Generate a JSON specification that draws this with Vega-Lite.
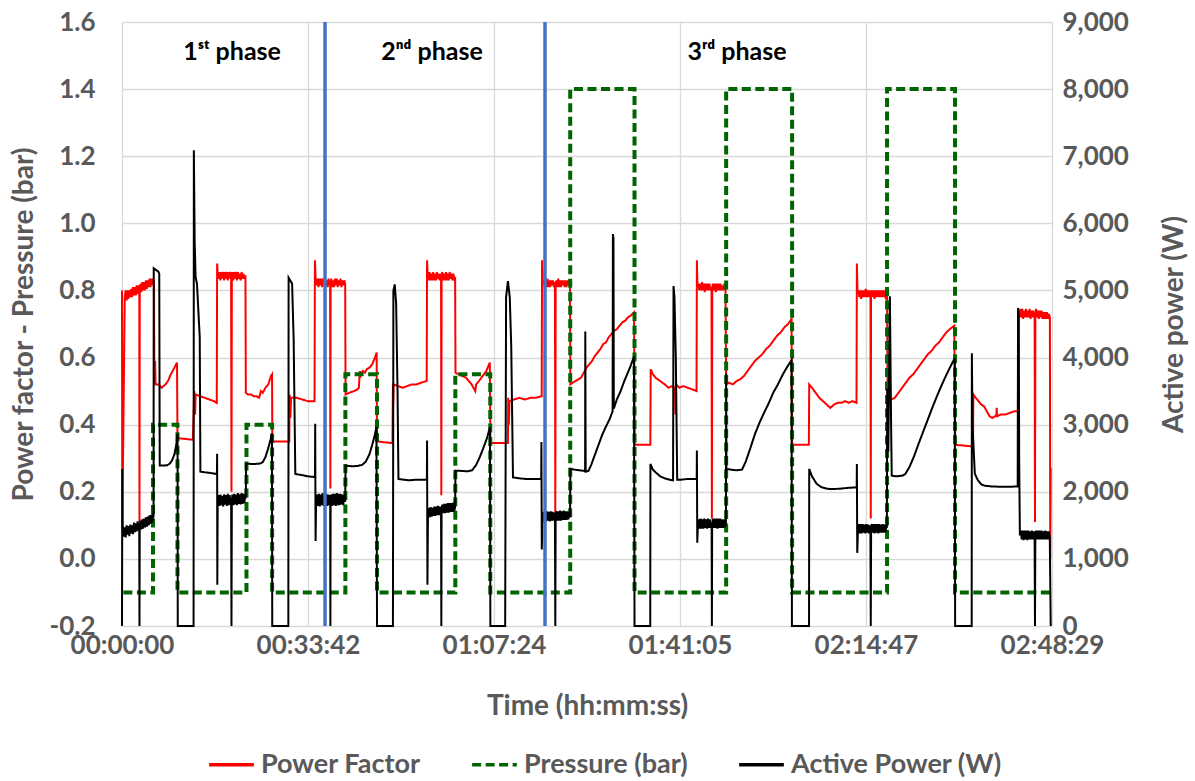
{
"$schema": "https://vega.github.io/schema/vega-lite/v6.json",
"width": 930, "height": 604,
"autosize": {"type": "none"},
"padding": {"left": 122, "top": 22, "right": 143, "bottom": 155},
"background": "white",
"config": {
  "font": "Lato",
  "view": {"stroke": null},
  "axis": {"labelFont": "Lato", "labelFontWeight": "bold", "labelFontSize": 26, "labelColor": "#595959", "titleFont": "Lato", "titleFontWeight": "bold", "titleFontSize": 28, "titleColor": "#595959", "domain": false, "ticks": false, "gridColor": "#D9D9D9", "gridWidth": 1.3},
  "legend": {"orient": "none", "legendX": 85, "legendY": 718, "direction": "horizontal", "labelFont": "Lato", "labelFontSize": 27, "labelFontWeight": "bold", "labelColor": "#595959", "symbolType": "stroke", "symbolSize": 2000, "symbolStrokeWidth": 3.5, "columnPadding": 44, "labelOffset": 5, "padding": 0, "labelLimit": 400}
},
"datasets": {
"pf": [{"t":0,"v":0.80},{"t":3,"v":0.09},{"t":30,"v":0.78},{"t":40,"v":0.80},{"t":50,"v":0.77},{"t":60,"v":0.80},{"t":70,"v":0.775},{"t":80,"v":0.80},{"t":90,"v":0.78},{"t":100,"v":0.805},{"t":110,"v":0.78},{"t":120,"v":0.81},{"t":130,"v":0.785},{"t":140,"v":0.81},{"t":150,"v":0.785},{"t":160,"v":0.815},{"t":170,"v":0.79},{"t":180,"v":0.815},{"t":188,"v":0.80},{"t":190,"v":0.11},{"t":193,"v":0.80},{"t":200,"v":0.82},{"t":210,"v":0.795},{"t":220,"v":0.825},{"t":230,"v":0.80},{"t":240,"v":0.825},{"t":250,"v":0.80},{"t":260,"v":0.83},{"t":270,"v":0.805},{"t":280,"v":0.83},{"t":290,"v":0.81},{"t":300,"v":0.835},{"t":310,"v":0.81},{"t":320,"v":0.835},{"t":330,"v":0.815},{"t":340,"v":0.835},{"t":348,"v":0.825},
{"t":352,"v":0.52},{"t":360,"v":0.59},{"t":365,"v":0.52},{"t":400,"v":0.52},{"t":430,"v":0.51},{"t":473,"v":0.52},{"t":500,"v":0.53},{"t":530,"v":0.55},{"t":570,"v":0.57},{"t":598,"v":0.585},{"t":603,"v":0.36},
{"t":770,"v":0.355},
{"t":785,"v":0.50},{"t":795,"v":0.43},{"t":800,"v":0.49},{"t":850,"v":0.485},{"t":900,"v":0.48},{"t":950,"v":0.475},{"t":1000,"v":0.47},{"t":1030,"v":0.465},
{"t":1034,"v":0.88},{"t":1040,"v":0.85},{"t":1050,"v":0.835},{"t":1060,"v":0.855},{"t":1070,"v":0.83},{"t":1080,"v":0.855},{"t":1090,"v":0.835},{"t":1100,"v":0.855},{"t":1110,"v":0.83},{"t":1120,"v":0.855},{"t":1130,"v":0.835},{"t":1140,"v":0.855},{"t":1150,"v":0.83},{"t":1160,"v":0.855},{"t":1170,"v":0.835},{"t":1180,"v":0.855},{"t":1186,"v":0.84},{"t":1190,"v":0.20},{"t":1194,"v":0.84},{"t":1200,"v":0.855},{"t":1210,"v":0.83},{"t":1220,"v":0.855},{"t":1230,"v":0.835},{"t":1240,"v":0.855},{"t":1250,"v":0.83},{"t":1260,"v":0.855},{"t":1270,"v":0.835},{"t":1280,"v":0.85},{"t":1290,"v":0.83},{"t":1300,"v":0.855},{"t":1310,"v":0.835},{"t":1320,"v":0.85},{"t":1330,"v":0.835},{"t":1342,"v":0.845},
{"t":1346,"v":0.495},{"t":1370,"v":0.49},{"t":1400,"v":0.49},{"t":1430,"v":0.485},{"t":1460,"v":0.485},{"t":1490,"v":0.48},{"t":1510,"v":0.50},{"t":1530,"v":0.495},{"t":1560,"v":0.51},{"t":1590,"v":0.52},{"t":1620,"v":0.545},{"t":1631,"v":0.55},{"t":1634,"v":0.35},
{"t":1818,"v":0.35},
{"t":1822,"v":0.49},{"t":1830,"v":0.42},{"t":1838,"v":0.48},{"t":1900,"v":0.48},{"t":1960,"v":0.475},{"t":2020,"v":0.47},{"t":2093,"v":0.47},
{"t":2097,"v":0.89},{"t":2105,"v":0.83},{"t":2115,"v":0.815},{"t":2125,"v":0.835},{"t":2135,"v":0.81},{"t":2145,"v":0.835},{"t":2155,"v":0.815},{"t":2165,"v":0.835},{"t":2175,"v":0.81},{"t":2185,"v":0.835},{"t":2195,"v":0.815},{"t":2205,"v":0.835},{"t":2215,"v":0.815},{"t":2225,"v":0.83},{"t":2235,"v":0.81},{"t":2245,"v":0.835},{"t":2255,"v":0.815},{"t":2262,"v":0.825},{"t":2265,"v":0.21},{"t":2268,"v":0.825},{"t":2275,"v":0.835},{"t":2285,"v":0.81},{"t":2295,"v":0.83},{"t":2305,"v":0.81},{"t":2315,"v":0.835},{"t":2325,"v":0.815},{"t":2335,"v":0.835},{"t":2345,"v":0.81},{"t":2355,"v":0.83},{"t":2365,"v":0.815},{"t":2375,"v":0.835},{"t":2385,"v":0.81},{"t":2395,"v":0.83},{"t":2405,"v":0.815},{"t":2415,"v":0.83},{"t":2426,"v":0.82},
{"t":2430,"v":0.49},{"t":2470,"v":0.495},{"t":2520,"v":0.50},{"t":2560,"v":0.505},{"t":2575,"v":0.51},{"t":2585,"v":0.56},{"t":2590,"v":0.54},{"t":2600,"v":0.555},{"t":2620,"v":0.56},{"t":2640,"v":0.555},{"t":2660,"v":0.565},{"t":2690,"v":0.57},{"t":2720,"v":0.58},{"t":2750,"v":0.60},{"t":2768,"v":0.615},{"t":2772,"v":0.35},
{"t":2940,"v":0.345},
{"t":2945,"v":0.52},{"t":2948,"v":0.46},{"t":2952,"v":0.52},{"t":3000,"v":0.515},{"t":3050,"v":0.51},{"t":3100,"v":0.515},{"t":3150,"v":0.52},{"t":3200,"v":0.52},{"t":3250,"v":0.525},{"t":3312,"v":0.53},
{"t":3316,"v":0.89},{"t":3322,"v":0.845},{"t":3332,"v":0.83},{"t":3342,"v":0.855},{"t":3352,"v":0.83},{"t":3362,"v":0.85},{"t":3372,"v":0.83},{"t":3382,"v":0.855},{"t":3392,"v":0.83},{"t":3402,"v":0.85},{"t":3412,"v":0.83},{"t":3422,"v":0.855},{"t":3432,"v":0.835},{"t":3442,"v":0.85},{"t":3452,"v":0.83},{"t":3462,"v":0.85},{"t":3468,"v":0.84},{"t":3471,"v":0.19},{"t":3474,"v":0.84},{"t":3482,"v":0.855},{"t":3492,"v":0.83},{"t":3502,"v":0.85},{"t":3512,"v":0.83},{"t":3522,"v":0.855},{"t":3532,"v":0.83},{"t":3542,"v":0.85},{"t":3552,"v":0.83},{"t":3562,"v":0.855},{"t":3572,"v":0.835},{"t":3582,"v":0.85},{"t":3592,"v":0.83},{"t":3602,"v":0.85},{"t":3612,"v":0.835},{"t":3621,"v":0.84},
{"t":3625,"v":0.555},{"t":3660,"v":0.55},{"t":3700,"v":0.545},{"t":3740,"v":0.54},{"t":3770,"v":0.53},{"t":3800,"v":0.52},{"t":3840,"v":0.50},{"t":3850,"v":0.52},{"t":3880,"v":0.53},{"t":3920,"v":0.545},{"t":3960,"v":0.56},{"t":3998,"v":0.585},{"t":4005,"v":0.345},
{"t":4195,"v":0.345},
{"t":4198,"v":0.48},{"t":4205,"v":0.40},{"t":4212,"v":0.47},{"t":4260,"v":0.475},{"t":4320,"v":0.48},{"t":4380,"v":0.475},{"t":4440,"v":0.48},{"t":4500,"v":0.48},{"t":4562,"v":0.485},
{"t":4566,"v":0.89},{"t":4575,"v":0.82},{"t":4585,"v":0.83},{"t":4595,"v":0.81},{"t":4605,"v":0.83},{"t":4615,"v":0.81},{"t":4625,"v":0.835},{"t":4635,"v":0.81},{"t":4645,"v":0.83},{"t":4655,"v":0.81},{"t":4665,"v":0.83},{"t":4675,"v":0.815},{"t":4685,"v":0.83},{"t":4695,"v":0.81},{"t":4706,"v":0.825},{"t":4710,"v":0.12},{"t":4714,"v":0.82},{"t":4722,"v":0.83},{"t":4732,"v":0.81},{"t":4742,"v":0.835},{"t":4752,"v":0.81},{"t":4762,"v":0.83},{"t":4772,"v":0.81},{"t":4782,"v":0.83},{"t":4792,"v":0.815},{"t":4802,"v":0.83},{"t":4812,"v":0.81},{"t":4822,"v":0.83},{"t":4832,"v":0.81},{"t":4842,"v":0.83},{"t":4852,"v":0.815},{"t":4862,"v":0.83},{"t":4869,"v":0.82},
{"t":4874,"v":0.52},{"t":4900,"v":0.525},{"t":4930,"v":0.53},{"t":4960,"v":0.535},{"t":4990,"v":0.54},{"t":5020,"v":0.555},{"t":5050,"v":0.57},{"t":5080,"v":0.58},{"t":5110,"v":0.59},{"t":5140,"v":0.605},{"t":5170,"v":0.615},{"t":5200,"v":0.625},{"t":5230,"v":0.64},{"t":5260,"v":0.645},{"t":5290,"v":0.66},{"t":5320,"v":0.67},{"t":5350,"v":0.68},{"t":5380,"v":0.685},{"t":5410,"v":0.695},{"t":5440,"v":0.705},{"t":5470,"v":0.71},{"t":5500,"v":0.72},{"t":5530,"v":0.725},{"t":5566,"v":0.735},{"t":5573,"v":0.34},
{"t":5743,"v":0.34},
{"t":5747,"v":0.565},{"t":5770,"v":0.55},{"t":5800,"v":0.54},{"t":5850,"v":0.53},{"t":5900,"v":0.52},{"t":5940,"v":0.51},{"t":5980,"v":0.515},{"t":6010,"v":0.51},{"t":6015,"v":0.43},{"t":6022,"v":0.52},{"t":6060,"v":0.51},{"t":6100,"v":0.515},{"t":6150,"v":0.51},{"t":6200,"v":0.505},{"t":6245,"v":0.50},
{"t":6249,"v":0.89},{"t":6255,"v":0.81},{"t":6265,"v":0.82},{"t":6275,"v":0.80},{"t":6285,"v":0.82},{"t":6295,"v":0.80},{"t":6305,"v":0.825},{"t":6315,"v":0.80},{"t":6325,"v":0.82},{"t":6335,"v":0.795},{"t":6345,"v":0.82},{"t":6355,"v":0.80},{"t":6365,"v":0.82},{"t":6375,"v":0.80},{"t":6385,"v":0.82},{"t":6395,"v":0.80},{"t":6408,"v":0.81},{"t":6412,"v":0.12},{"t":6416,"v":0.81},{"t":6425,"v":0.82},{"t":6435,"v":0.80},{"t":6445,"v":0.82},{"t":6455,"v":0.795},{"t":6465,"v":0.82},{"t":6475,"v":0.80},{"t":6485,"v":0.82},{"t":6495,"v":0.80},{"t":6505,"v":0.82},{"t":6515,"v":0.80},{"t":6525,"v":0.815},{"t":6535,"v":0.80},{"t":6545,"v":0.815},{"t":6560,"v":0.81},
{"t":6567,"v":0.52},{"t":6600,"v":0.525},{"t":6640,"v":0.52},{"t":6680,"v":0.53},{"t":6720,"v":0.535},{"t":6760,"v":0.545},{"t":6800,"v":0.56},{"t":6840,"v":0.575},{"t":6880,"v":0.59},{"t":6920,"v":0.60},{"t":6960,"v":0.61},{"t":7000,"v":0.625},{"t":7040,"v":0.635},{"t":7080,"v":0.65},{"t":7120,"v":0.665},{"t":7160,"v":0.675},{"t":7200,"v":0.69},{"t":7240,"v":0.70},{"t":7278,"v":0.715},{"t":7284,"v":0.34},
{"t":7466,"v":0.34},
{"t":7470,"v":0.52},{"t":7500,"v":0.51},{"t":7540,"v":0.495},{"t":7580,"v":0.48},{"t":7620,"v":0.47},{"t":7660,"v":0.46},{"t":7700,"v":0.45},{"t":7740,"v":0.46},{"t":7780,"v":0.465},{"t":7820,"v":0.465},{"t":7860,"v":0.47},{"t":7900,"v":0.465},{"t":7940,"v":0.47},{"t":7984,"v":0.465},
{"t":7988,"v":0.88},{"t":7995,"v":0.79},{"t":8005,"v":0.80},{"t":8015,"v":0.78},{"t":8025,"v":0.80},{"t":8035,"v":0.775},{"t":8045,"v":0.80},{"t":8055,"v":0.78},{"t":8065,"v":0.80},{"t":8075,"v":0.78},{"t":8085,"v":0.805},{"t":8095,"v":0.78},{"t":8105,"v":0.80},{"t":8115,"v":0.78},{"t":8125,"v":0.80},{"t":8136,"v":0.79},{"t":8139,"v":0.12},{"t":8142,"v":0.79},{"t":8150,"v":0.80},{"t":8160,"v":0.78},{"t":8170,"v":0.80},{"t":8180,"v":0.775},{"t":8190,"v":0.80},{"t":8200,"v":0.78},{"t":8210,"v":0.80},{"t":8220,"v":0.78},{"t":8230,"v":0.80},{"t":8240,"v":0.78},{"t":8250,"v":0.80},{"t":8260,"v":0.78},{"t":8270,"v":0.80},{"t":8280,"v":0.78},{"t":8290,"v":0.80},{"t":8300,"v":0.78},{"t":8316,"v":0.79},
{"t":8322,"v":0.47},{"t":8360,"v":0.475},{"t":8400,"v":0.48},{"t":8440,"v":0.495},{"t":8480,"v":0.51},{"t":8520,"v":0.525},{"t":8560,"v":0.54},{"t":8600,"v":0.55},{"t":8640,"v":0.565},{"t":8680,"v":0.58},{"t":8720,"v":0.595},{"t":8760,"v":0.61},{"t":8800,"v":0.62},{"t":8840,"v":0.635},{"t":8880,"v":0.645},{"t":8920,"v":0.66},{"t":8960,"v":0.675},{"t":9000,"v":0.685},{"t":9047,"v":0.695},{"t":9057,"v":0.34},
{"t":9250,"v":0.335},
{"t":9254,"v":0.49},{"t":9280,"v":0.48},{"t":9310,"v":0.47},{"t":9340,"v":0.46},{"t":9370,"v":0.455},{"t":9400,"v":0.44},{"t":9430,"v":0.425},{"t":9460,"v":0.42},{"t":9490,"v":0.425},{"t":9505,"v":0.43},{"t":9508,"v":0.45},{"t":9512,"v":0.425},{"t":9550,"v":0.43},{"t":9600,"v":0.43},{"t":9650,"v":0.435},{"t":9700,"v":0.44},{"t":9738,"v":0.44},
{"t":9745,"v":0.74},{"t":9755,"v":0.72},{"t":9765,"v":0.745},{"t":9775,"v":0.72},{"t":9785,"v":0.745},{"t":9795,"v":0.715},{"t":9805,"v":0.74},{"t":9815,"v":0.72},{"t":9825,"v":0.745},{"t":9835,"v":0.72},{"t":9845,"v":0.74},{"t":9855,"v":0.72},{"t":9865,"v":0.745},{"t":9875,"v":0.715},{"t":9885,"v":0.74},{"t":9895,"v":0.72},{"t":9905,"v":0.74},{"t":9915,"v":0.72},{"t":9920,"v":0.73},{"t":9924,"v":0.11},{"t":9928,"v":0.73},{"t":9935,"v":0.745},{"t":9945,"v":0.72},{"t":9955,"v":0.74},{"t":9965,"v":0.715},{"t":9975,"v":0.74},{"t":9985,"v":0.72},{"t":9995,"v":0.74},{"t":10005,"v":0.715},{"t":10015,"v":0.735},{"t":10025,"v":0.715},{"t":10035,"v":0.735},{"t":10045,"v":0.715},{"t":10055,"v":0.735},{"t":10065,"v":0.715},{"t":10075,"v":0.73},{"t":10086,"v":0.72},{"t":10090,"v":0.0},{"t":10095,"v":0.27}],
"pr": [{"t":15,"v":-0.1},{"t":337,"v":-0.1},{"t":337,"v":0.4},{"t":603,"v":0.4},{"t":603,"v":-0.1},{"t":1353,"v":-0.1},{"t":1353,"v":0.4},{"t":1632,"v":0.4},{"t":1632,"v":-0.1},{"t":2428,"v":-0.1},{"t":2428,"v":0.55},{"t":2772,"v":0.55},{"t":2772,"v":-0.1},{"t":3623,"v":-0.1},{"t":3623,"v":0.55},{"t":4003,"v":0.55},{"t":4003,"v":-0.1},{"t":4872,"v":-0.1},{"t":4872,"v":1.4},{"t":5571,"v":1.4},{"t":5571,"v":-0.1},{"t":6567,"v":-0.1},{"t":6567,"v":1.4},{"t":7284,"v":1.4},{"t":7284,"v":-0.1},{"t":8316,"v":-0.1},{"t":8316,"v":1.4},{"t":9055,"v":1.4},{"t":9055,"v":-0.1},{"t":10085,"v":-0.1}],
"ap": [{"t":0,"w":0},{"t":3,"w":2340},{"t":8,"w":1350},{"t":10,"w":1480},{"t":20,"w":1330},{"t":30,"w":1470},{"t":40,"w":1320},{"t":50,"w":1500},{"t":60,"w":1360},{"t":70,"w":1490},{"t":80,"w":1340},{"t":90,"w":1510},{"t":100,"w":1380},{"t":110,"w":1500},{"t":120,"w":1370},{"t":130,"w":1540},{"t":140,"w":1400},{"t":150,"w":1530},{"t":160,"w":1410},{"t":170,"w":1560},{"t":180,"w":1430},{"t":187,"w":1540},{"t":190,"w":0},{"t":193,"w":1470},{"t":200,"w":1570},{"t":210,"w":1440},{"t":220,"w":1590},{"t":230,"w":1450},{"t":240,"w":1600},{"t":250,"w":1470},{"t":260,"w":1620},{"t":270,"w":1480},{"t":280,"w":1630},{"t":290,"w":1500},{"t":300,"w":1650},{"t":310,"w":1520},{"t":320,"w":1660},{"t":330,"w":1540},{"t":340,"w":1680},{"t":343,"w":1620},
{"t":345,"w":5330},{"t":395,"w":5280},{"t":405,"w":5250},{"t":410,"w":2390},{"t":450,"w":2390},{"t":491,"w":2395},{"t":520,"w":2420},{"t":545,"w":2470},{"t":570,"w":2560},{"t":590,"w":2700},{"t":604,"w":2865},{"t":606,"w":0},
{"t":778,"w":0},
{"t":781,"w":7090},{"t":790,"w":5720},{"t":800,"w":5200},{"t":815,"w":5100},{"t":845,"w":4300},{"t":852,"w":2300},{"t":900,"w":2290},{"t":960,"w":2280},{"t":1010,"w":2270},{"t":1032,"w":2260},
{"t":1034,"w":2565},{"t":1036,"w":615},{"t":1040,"w":1800},{"t":1050,"w":1950},{"t":1060,"w":1790},{"t":1070,"w":1960},{"t":1080,"w":1800},{"t":1090,"w":1940},{"t":1100,"w":1780},{"t":1110,"w":1960},{"t":1120,"w":1810},{"t":1130,"w":1950},{"t":1140,"w":1790},{"t":1150,"w":1970},{"t":1160,"w":1800},{"t":1170,"w":1950},{"t":1180,"w":1810},{"t":1186,"w":1900},{"t":1190,"w":0},{"t":1194,"w":1860},{"t":1200,"w":1960},{"t":1210,"w":1800},{"t":1220,"w":1970},{"t":1230,"w":1810},{"t":1240,"w":1960},{"t":1250,"w":1800},{"t":1260,"w":1980},{"t":1270,"w":1820},{"t":1280,"w":1960},{"t":1290,"w":1810},{"t":1300,"w":1980},{"t":1310,"w":1820},{"t":1320,"w":1970},{"t":1330,"w":1830},{"t":1340,"w":1960},{"t":1345,"w":1900},
{"t":1350,"w":2420},{"t":1400,"w":2415},{"t":1450,"w":2415},{"t":1500,"w":2420},{"t":1530,"w":2440},{"t":1560,"w":2520},{"t":1590,"w":2650},{"t":1615,"w":2780},{"t":1630,"w":2870},{"t":1633,"w":0},
{"t":1808,"w":0},
{"t":1811,"w":5190},{"t":1849,"w":5100},{"t":1866,"w":4265},{"t":1884,"w":2265},{"t":1950,"w":2250},{"t":2020,"w":2230},{"t":2098,"w":2220},
{"t":2100,"w":3015},{"t":2104,"w":1265},{"t":2110,"w":1850},{"t":2120,"w":1960},{"t":2130,"w":1790},{"t":2140,"w":1970},{"t":2150,"w":1780},{"t":2160,"w":1960},{"t":2170,"w":1800},{"t":2180,"w":1980},{"t":2190,"w":1790},{"t":2200,"w":1960},{"t":2210,"w":1800},{"t":2220,"w":1970},{"t":2230,"w":1790},{"t":2240,"w":1960},{"t":2250,"w":1800},{"t":2260,"w":1950},{"t":2263,"w":1880},{"t":2265,"w":0},{"t":2268,"w":1880},{"t":2275,"w":1960},{"t":2285,"w":1790},{"t":2295,"w":1970},{"t":2305,"w":1800},{"t":2315,"w":1970},{"t":2325,"w":1790},{"t":2335,"w":1980},{"t":2345,"w":1800},{"t":2355,"w":1970},{"t":2365,"w":1800},{"t":2375,"w":1970},{"t":2385,"w":1810},{"t":2395,"w":1960},{"t":2405,"w":1800},{"t":2415,"w":1960},{"t":2426,"w":1850},
{"t":2430,"w":2390},{"t":2500,"w":2380},{"t":2560,"w":2385},{"t":2610,"w":2400},{"t":2650,"w":2450},{"t":2690,"w":2560},{"t":2720,"w":2700},{"t":2745,"w":2830},{"t":2766,"w":2965},{"t":2772,"w":0},
{"t":2945,"w":0},
{"t":2950,"w":5000},{"t":2965,"w":5090},{"t":2980,"w":4800},{"t":2995,"w":3500},{"t":3005,"w":2190},{"t":3060,"w":2180},{"t":3120,"w":2170},{"t":3200,"w":2180},{"t":3260,"w":2180},{"t":3314,"w":2180},
{"t":3316,"w":2765},{"t":3320,"w":615},{"t":3326,"w":1650},{"t":3335,"w":1760},{"t":3345,"w":1620},{"t":3355,"w":1770},{"t":3365,"w":1630},{"t":3375,"w":1760},{"t":3385,"w":1640},{"t":3395,"w":1780},{"t":3405,"w":1640},{"t":3415,"w":1780},{"t":3425,"w":1650},{"t":3435,"w":1790},{"t":3445,"w":1650},{"t":3455,"w":1780},{"t":3465,"w":1670},{"t":3468,"w":1720},{"t":3471,"w":0},{"t":3474,"w":1720},{"t":3482,"w":1810},{"t":3492,"w":1680},{"t":3502,"w":1820},{"t":3512,"w":1680},{"t":3522,"w":1820},{"t":3532,"w":1690},{"t":3542,"w":1830},{"t":3552,"w":1690},{"t":3562,"w":1830},{"t":3572,"w":1700},{"t":3582,"w":1830},{"t":3592,"w":1700},{"t":3602,"w":1840},{"t":3612,"w":1710},{"t":3621,"w":1780},
{"t":3625,"w":2315},{"t":3700,"w":2310},{"t":3760,"w":2305},{"t":3805,"w":2320},{"t":3850,"w":2400},{"t":3890,"w":2520},{"t":3930,"w":2660},{"t":3970,"w":2810},{"t":4000,"w":2965},{"t":4004,"w":0},
{"t":4165,"w":0},
{"t":4175,"w":4900},{"t":4195,"w":5140},{"t":4215,"w":4900},{"t":4231,"w":4165},{"t":4250,"w":2215},{"t":4320,"w":2200},{"t":4400,"w":2190},{"t":4480,"w":2190},{"t":4557,"w":2190},
{"t":4559,"w":2740},{"t":4563,"w":1140},{"t":4570,"w":1600},{"t":4580,"w":1700},{"t":4590,"w":1560},{"t":4600,"w":1700},{"t":4610,"w":1560},{"t":4620,"w":1710},{"t":4630,"w":1570},{"t":4640,"w":1700},{"t":4650,"w":1560},{"t":4660,"w":1710},{"t":4670,"w":1570},{"t":4680,"w":1700},{"t":4690,"w":1570},{"t":4700,"w":1690},{"t":4706,"w":1640},{"t":4710,"w":0},{"t":4714,"w":1640},{"t":4722,"w":1710},{"t":4732,"w":1570},{"t":4742,"w":1710},{"t":4752,"w":1570},{"t":4762,"w":1720},{"t":4772,"w":1570},{"t":4782,"w":1710},{"t":4792,"w":1580},{"t":4802,"w":1720},{"t":4812,"w":1580},{"t":4822,"w":1710},{"t":4832,"w":1580},{"t":4842,"w":1710},{"t":4852,"w":1590},{"t":4862,"w":1700},{"t":4870,"w":1620},
{"t":4874,"w":2340},{"t":4920,"w":2330},{"t":4970,"w":2320},{"t":5034,"w":2310},{"t":5036,"w":4390},{"t":5040,"w":2300},{"t":5070,"w":2310},{"t":5100,"w":2400},{"t":5140,"w":2550},{"t":5180,"w":2700},{"t":5220,"w":2850},{"t":5260,"w":2970},{"t":5300,"w":3080},{"t":5333,"w":3200},{"t":5336,"w":5840},{"t":5342,"w":5780},{"t":5346,"w":3240},{"t":5380,"w":3380},{"t":5420,"w":3500},{"t":5460,"w":3650},{"t":5500,"w":3780},{"t":5530,"w":3880},{"t":5565,"w":4015},{"t":5571,"w":0},
{"t":5742,"w":0},
{"t":5744,"w":2415},{"t":5770,"w":2330},{"t":5800,"w":2290},{"t":5850,"w":2230},{"t":5900,"w":2200},{"t":5950,"w":2180},{"t":5990,"w":2170},{"t":5995,"w":5065},{"t":6005,"w":4900},{"t":6020,"w":4000},{"t":6035,"w":2180},{"t":6080,"w":2180},{"t":6140,"w":2190},{"t":6200,"w":2190},{"t":6247,"w":2190},
{"t":6249,"w":2615},{"t":6253,"w":1240},{"t":6260,"w":1500},{"t":6270,"w":1590},{"t":6280,"w":1450},{"t":6290,"w":1600},{"t":6300,"w":1450},{"t":6310,"w":1590},{"t":6320,"w":1450},{"t":6330,"w":1600},{"t":6340,"w":1460},{"t":6350,"w":1590},{"t":6360,"w":1450},{"t":6370,"w":1600},{"t":6380,"w":1460},{"t":6390,"w":1590},{"t":6400,"w":1460},{"t":6409,"w":1540},{"t":6412,"w":0},{"t":6415,"w":1520},{"t":6422,"w":1600},{"t":6432,"w":1460},{"t":6442,"w":1600},{"t":6452,"w":1460},{"t":6462,"w":1600},{"t":6472,"w":1450},{"t":6482,"w":1600},{"t":6492,"w":1460},{"t":6502,"w":1600},{"t":6512,"w":1460},{"t":6522,"w":1590},{"t":6532,"w":1460},{"t":6542,"w":1590},{"t":6552,"w":1470},{"t":6565,"w":1540},
{"t":6567,"w":3765},{"t":6570,"w":2340},{"t":6620,"w":2330},{"t":6680,"w":2320},{"t":6740,"w":2330},{"t":6780,"w":2450},{"t":6830,"w":2650},{"t":6880,"w":2860},{"t":6930,"w":3030},{"t":6980,"w":3180},{"t":7030,"w":3320},{"t":7080,"w":3480},{"t":7130,"w":3600},{"t":7180,"w":3740},{"t":7230,"w":3860},{"t":7278,"w":3960},{"t":7282,"w":0},
{"t":7468,"w":0},
{"t":7470,"w":2340},{"t":7500,"w":2230},{"t":7550,"w":2120},{"t":7600,"w":2070},{"t":7650,"w":2050},{"t":7700,"w":2040},{"t":7800,"w":2045},{"t":7900,"w":2060},{"t":7986,"w":2065},
{"t":7988,"w":2415},{"t":7992,"w":1090},{"t":8000,"w":1430},{"t":8010,"w":1520},{"t":8020,"w":1380},{"t":8030,"w":1520},{"t":8040,"w":1380},{"t":8050,"w":1520},{"t":8060,"w":1390},{"t":8070,"w":1510},{"t":8080,"w":1380},{"t":8090,"w":1520},{"t":8100,"w":1390},{"t":8110,"w":1510},{"t":8120,"w":1380},{"t":8130,"w":1500},{"t":8135,"w":1450},{"t":8139,"w":0},{"t":8143,"w":1450},{"t":8150,"w":1520},{"t":8160,"w":1390},{"t":8170,"w":1520},{"t":8180,"w":1380},{"t":8190,"w":1520},{"t":8200,"w":1390},{"t":8210,"w":1520},{"t":8220,"w":1380},{"t":8230,"w":1520},{"t":8240,"w":1390},{"t":8250,"w":1510},{"t":8260,"w":1390},{"t":8270,"w":1520},{"t":8280,"w":1390},{"t":8290,"w":1510},{"t":8300,"w":1400},{"t":8310,"w":1500},{"t":8314,"w":1460},
{"t":8318,"w":3540},{"t":8330,"w":2600},{"t":8347,"w":4915},{"t":8360,"w":3000},{"t":8367,"w":2240},{"t":8420,"w":2230},{"t":8480,"w":2240},{"t":8512,"w":2260},{"t":8560,"w":2370},{"t":8610,"w":2530},{"t":8660,"w":2720},{"t":8710,"w":2900},{"t":8760,"w":3080},{"t":8810,"w":3260},{"t":8860,"w":3430},{"t":8910,"w":3590},{"t":8960,"w":3740},{"t":9010,"w":3880},{"t":9052,"w":3990},{"t":9056,"w":0},
{"t":9236,"w":0},
{"t":9238,"w":4065},{"t":9245,"w":3000},{"t":9270,"w":2270},{"t":9300,"w":2180},{"t":9340,"w":2110},{"t":9380,"w":2090},{"t":9450,"w":2080},{"t":9550,"w":2075},{"t":9650,"w":2075},{"t":9736,"w":2080},
{"t":9740,"w":4740},{"t":9748,"w":4600},{"t":9752,"w":2500},{"t":9760,"w":1350},{"t":9770,"w":1420},{"t":9780,"w":1290},{"t":9790,"w":1420},{"t":9800,"w":1280},{"t":9810,"w":1420},{"t":9820,"w":1290},{"t":9830,"w":1420},{"t":9840,"w":1280},{"t":9850,"w":1420},{"t":9860,"w":1290},{"t":9870,"w":1410},{"t":9880,"w":1290},{"t":9890,"w":1420},{"t":9900,"w":1290},{"t":9910,"w":1410},{"t":9920,"w":1320},{"t":9924,"w":0},{"t":9928,"w":1350},{"t":9935,"w":1420},{"t":9945,"w":1290},{"t":9955,"w":1420},{"t":9965,"w":1290},{"t":9975,"w":1420},{"t":9985,"w":1290},{"t":9995,"w":1420},{"t":10005,"w":1290},{"t":10015,"w":1410},{"t":10025,"w":1290},{"t":10035,"w":1420},{"t":10045,"w":1290},{"t":10055,"w":1410},{"t":10065,"w":1290},{"t":10075,"w":1410},{"t":10085,"w":1330},{"t":10095,"w":0}],
"ph": [{"t":2207},{"t":4598}],
"lab": [{"t":1196,"v":1.51,"s":"1ˢᵗ phase"},{"t":3370,"v":1.51,"s":"2ⁿᵈ phase"},{"t":6685,"v":1.51,"s":"3ʳᵈ phase"}]
},
"layer": [
{"data": {"name": "pf"},
 "mark": {"type": "line", "strokeWidth": 2},
 "encoding": {
  "x": {"field": "t", "type": "quantitative", "scale": {"domain": [0, 10109], "nice": false, "zero": false},
        "axis": {"values": [0, 2021.8, 4043.6, 6065.4, 8087.2, 10109], "labelExpr": "utcFormat(round(datum.value)*1000, '%H:%M:%S')", "title": "Time (hh:mm:ss)", "grid": true, "labelPadding": 6, "titlePadding": 34, "labelFlush": false, "labelOverlap": false}},
  "y": {"field": "v", "type": "quantitative", "scale": {"domain": [-0.2, 1.6], "nice": false, "zero": false},
        "axis": {"values": [-0.2, 0, 0.2, 0.4, 0.6, 0.8, 1.0, 1.2, 1.4, 1.6], "labelExpr": "replace(format(datum.value, '.1f'), '\u2212', '-')", "title": "Power factor - Pressure (bar)", "grid": true, "labelPadding": 27, "titlePadding": 10}},
  "color": {"datum": "Power Factor", "type": "nominal", "scale": {"domain": ["Power Factor", "Pressure (bar)", "Active Power (W)"], "range": ["#FF0000", "#006400", "#000000"]}, "legend": {"title": null}},
  "strokeDash": {"datum": "Power Factor", "type": "nominal", "scale": {"domain": ["Power Factor", "Pressure (bar)", "Active Power (W)"], "range": [[1, 0], [9, 4.5], [1, 0]]}, "legend": {"title": null}},
  "order": {"value": null}
 }},
{"data": {"name": "pr"},
 "mark": {"type": "line", "strokeWidth": 4},
 "encoding": {
  "x": {"field": "t", "type": "quantitative"},
  "y": {"field": "v", "type": "quantitative", "scale": {"domain": [-0.2, 1.6], "nice": false, "zero": false}, "axis": null},
  "color": {"datum": "Pressure (bar)", "type": "nominal", "legend": {"title": null}},
  "strokeDash": {"datum": "Pressure (bar)", "type": "nominal", "legend": {"title": null}},
  "order": {"value": null}
 }},
{"data": {"name": "ap"},
 "mark": {"type": "line", "strokeWidth": 2},
 "encoding": {
  "x": {"field": "t", "type": "quantitative"},
  "y": {"field": "w", "type": "quantitative", "scale": {"domain": [0, 9000], "nice": false, "zero": false},
        "axis": {"orient": "right", "values": [0, 1000, 2000, 3000, 4000, 5000, 6000, 7000, 8000, 9000], "format": ",d", "title": "Active power (W)", "grid": false, "labelPadding": 10, "titleAngle": 270, "titleBaseline": "top", "titlePadding": 32}},
  "color": {"datum": "Active Power (W)", "type": "nominal", "legend": {"title": null}},
  "strokeDash": {"datum": "Active Power (W)", "type": "nominal", "legend": {"title": null}},
  "order": {"value": null}
 }},
{"data": {"name": "ph"},
 "mark": {"type": "rule", "color": "#4472C4", "strokeWidth": 3.5},
 "encoding": {"x": {"field": "t", "type": "quantitative"}}},
{"data": {"name": "lab"},
 "mark": {"type": "text", "font": "Lato", "fontWeight": "bold", "fontSize": 25, "color": "#000000"},
 "encoding": {
  "x": {"field": "t", "type": "quantitative"},
  "y": {"field": "v", "type": "quantitative", "scale": {"domain": [-0.2, 1.6], "nice": false, "zero": false}, "axis": null},
  "text": {"field": "s"}
 }}
],
"resolve": {"scale": {"y": "independent"}}
}
